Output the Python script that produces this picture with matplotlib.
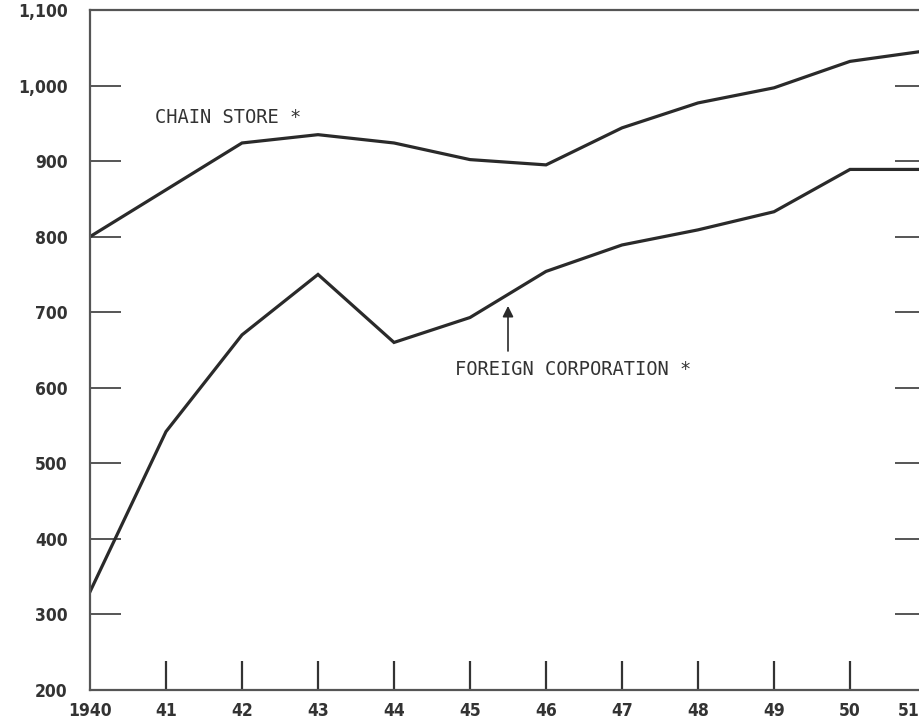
import matplotlib
matplotlib.use("Agg")
import matplotlib.pyplot as plt
import matplotlib.transforms as mtransforms

years = [1940, 1941, 1942, 1943, 1944, 1945, 1946, 1947, 1948, 1949, 1950, 1951]
chain_store = [800, 862, 924, 935, 924, 902, 895, 944, 977, 997, 1032, 1046]
foreign_corp = [330, 542, 670, 750, 660, 693, 754, 789, 809, 833, 889, 889]
x_labels = ["1940", "41", "42", "43", "44", "45", "46", "47", "48", "49", "50", "51"]
y_ticks = [200, 300, 400, 500, 600, 700, 800, 900, 1000, 1100]
y_labels = ["200", "300", "400", "500", "600", "700", "800", "900", "1,000", "1,100"]

W, H = 919, 725
fig = plt.figure(figsize=(W / 100, H / 100), dpi=100)
ax = fig.add_axes([90 / W, 35 / H, (926 - 90) / W, (690 - 10) / H])

ink = "#2a2a2a"
ax.plot(years, chain_store, color=ink, lw=2.3, solid_joinstyle="miter")
ax.plot(years, foreign_corp, color=ink, lw=2.3, solid_joinstyle="miter")

ax.set_xlim(1940, 1951)
ax.set_ylim(200, 1100)

for s in ["left", "bottom", "top"]:
    ax.spines[s].set_color("#555555")
    ax.spines[s].set_linewidth(1.6)
ax.spines["right"].set_visible(False)

tfont = dict(family="DejaVu Sans", weight="bold", stretch="condensed", size=12.5)

ax.set_xticks(years)
ax.set_xticklabels(x_labels, **tfont, color="#333333")
ax.set_yticks(y_ticks)
ax.set_yticklabels(y_labels, **tfont, color="#333333")
ax.tick_params(axis="x", direction="in", length=21, width=1.6, color="#333333", pad=9)
ax.tick_params(axis="y", direction="in", length=22, width=1.4, color="#555555", pad=16,
               right=True)

for t in ax.yaxis.get_major_ticks():
    if t.get_loc() in (200, 1100):
        t.tick1line.set_visible(False)
        t.tick2line.set_visible(False)
for t in ax.xaxis.get_major_ticks():
    if t.get_loc() == 1940:
        t.tick1line.set_visible(False)

# shift the last (edge) year label left so it stays inside the figure
last = ax.get_xticklabels()[-1]
last.set_transform(last.get_transform() +
                   mtransforms.ScaledTranslation(-17 / 100, 0, fig.dpi_scale_trans))

mono = dict(family="DejaVu Sans Mono", size=13.5, color="#333333")
ax.text(1940.86, 958, "CHAIN STORE *", ha="left", va="center", **mono)
ax.text(1944.8, 624, "FOREIGN CORPORATION *", ha="left", va="center", **mono)
ax.annotate("", xy=(1945.5, 712), xytext=(1945.5, 645),
            arrowprops=dict(arrowstyle="-|>", color=ink, lw=1.2, mutation_scale=16))

fig.savefig("out.png", dpi=100)
